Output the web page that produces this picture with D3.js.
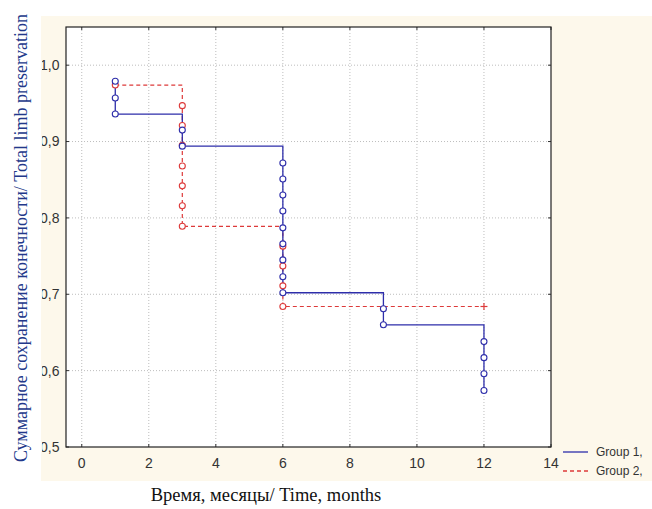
<!DOCTYPE html>
<html lang="ru">
<head>
<meta charset="UTF-8">
<title>Total limb preservation</title>
<style>
    body { margin: 0; background: #fff; }
    svg { display: block; }
    .tick-label { font-family: "Liberation Sans", Arial, sans-serif; font-size: 14px; fill: #333; }
    .title { font-family: "Liberation Serif", "Times New Roman", serif; }
</style>
</head>
<body>
<svg id="chart" width="652" height="509"></svg>
<script src="https://cdn.jsdelivr.net/npm/d3@7"></script>
<script>
// event times and survival values
const group1Time = [1, 1, 1, 3, 3, 6, 6, 6, 6, 6, 6, 6, 6, 6, 9, 9, 12, 12, 12, 12];
const group1Surv = [0.979, 0.957, 0.936, 0.915, 0.894, 0.872, 0.851, 0.830, 0.809, 0.787,
                    0.766, 0.745, 0.723, 0.702, 0.681, 0.660, 0.638, 0.617, 0.596, 0.574];
const group2Time = [1, 3, 3, 3, 3, 3, 3, 3, 6, 6, 6, 6];
const group2Surv = [0.974, 0.947, 0.921, 0.895, 0.868, 0.842, 0.816, 0.789, 0.763, 0.737, 0.711, 0.684];
const group2CensTime = [12];
const group2CensSurv = [0.684];

const xTicks = [0, 2, 4, 6, 8, 10, 12, 14];
const yTicks = [0.5, 0.6, 0.7, 0.8, 0.9, 1.0];
const seriesNames = ["Group 1,", "Group 2,"];

const blue = "#2e2eaa", red = "#dd3a3a";

const svg = d3.select("#chart");
const pLeft = 66, pRight = 551, pTop = 27, pBottom = 447;

const x = d3.scaleLinear().domain([-0.47, 14]).range([pLeft, pRight]);
const y = d3.scaleLinear().domain([0.5, 1.05]).range([pBottom, pTop]);

// cream panel
svg.append("rect").attr("x", 41).attr("y", 16).attr("width", 611).attr("height", 465)
    .attr("fill", "#fdf8eb");
svg.append("rect").attr("x", pLeft).attr("y", pTop).attr("width", pRight - pLeft).attr("height", pBottom - pTop)
    .attr("fill", "#fff");

// dotted grid
const grid = svg.append("g").attr("stroke", "#bdbdbd").attr("stroke-dasharray", "1,2");
grid.selectAll("line.gx").data(xTicks.filter(d => d < 14)).join("line").attr("class", "gx")
    .attr("x1", d => x(d)).attr("x2", d => x(d)).attr("y1", pTop).attr("y2", pBottom);
grid.selectAll("line.gy").data(yTicks.filter(d => d > 0.5)).join("line").attr("class", "gy")
    .attr("x1", pLeft).attr("x2", pRight).attr("y1", d => y(d)).attr("y2", d => y(d));

// ticks on all four sides
const tk = svg.append("g").attr("stroke", "#333");
tk.selectAll("line.tb").data(xTicks).join("line").attr("class", "tb")
    .attr("x1", d => x(d)).attr("x2", d => x(d)).attr("y1", pBottom).attr("y2", pBottom - 3);
tk.selectAll("line.tt").data(xTicks).join("line").attr("class", "tt")
    .attr("x1", d => x(d)).attr("x2", d => x(d)).attr("y1", pTop).attr("y2", pTop + 3);
tk.selectAll("line.tl").data(yTicks).join("line").attr("class", "tl")
    .attr("x1", pLeft).attr("x2", pLeft + 3).attr("y1", d => y(d)).attr("y2", d => y(d));
tk.selectAll("line.tr").data(yTicks).join("line").attr("class", "tr")
    .attr("x1", pRight).attr("x2", pRight - 3).attr("y1", d => y(d)).attr("y2", d => y(d));

// frame
svg.append("rect").attr("x", pLeft).attr("y", pTop).attr("width", pRight - pLeft).attr("height", pBottom - pTop)
    .attr("fill", "none").attr("stroke", "#222").attr("stroke-width", 1.2);

// tick labels (left side slightly clipped like the original crop)
svg.append("clipPath").attr("id", "cut").append("rect")
    .attr("x", 42).attr("y", 0).attr("width", 610).attr("height", 509);
svg.append("g").attr("clip-path", "url(#cut)")
    .selectAll("text").data(yTicks).join("text").attr("class", "tick-label")
    .attr("x", 59.5).attr("y", d => y(d)).attr("dy", "0.35em").attr("text-anchor", "end")
    .text(d => d3.format(".1f")(d).replace(".", ","));
svg.append("g").selectAll("text").data(xTicks).join("text").attr("class", "tick-label")
    .attr("x", d => x(d)).attr("y", 468).attr("text-anchor", "middle")
    .text(d => d);

// survival curves
const line = d3.line().x(d => x(d[0])).y(d => y(d[1])).curve(d3.curveStepAfter);
const g1 = group1Time.map((t, i) => [t, group1Surv[i]]);
const g2 = group2Time.map((t, i) => [t, group2Surv[i]]);
const cens = group2CensTime.map((t, i) => [t, group2CensSurv[i]]);
const g2Line = g2.concat(cens);

svg.append("path").datum(g2Line).attr("d", line).attr("fill", "none")
    .attr("stroke", red).attr("stroke-width", 1.2).attr("stroke-dasharray", "4,3");
svg.append("path").datum(g1).attr("d", line).attr("fill", "none")
    .attr("stroke", blue).attr("stroke-width", 1.3);

svg.append("g").selectAll("circle").data(g2).join("circle")
    .attr("cx", d => x(d[0])).attr("cy", d => y(d[1])).attr("r", 3)
    .attr("fill", "#fff").attr("stroke", red).attr("stroke-width", 1.1);
svg.append("g").selectAll("circle").data(g1).join("circle")
    .attr("cx", d => x(d[0])).attr("cy", d => y(d[1])).attr("r", 3)
    .attr("fill", "#fff").attr("stroke", blue).attr("stroke-width", 1.1);

// censored mark
const cg = svg.append("g").attr("stroke", red).attr("stroke-width", 1.2);
cg.selectAll("line.h").data(cens).join("line").attr("class", "h")
    .attr("x1", d => x(d[0]) - 3.5).attr("x2", d => x(d[0]) + 3.5)
    .attr("y1", d => y(d[1])).attr("y2", d => y(d[1]));
cg.selectAll("line.v").data(cens).join("line").attr("class", "v")
    .attr("x1", d => x(d[0])).attr("x2", d => x(d[0]))
    .attr("y1", d => y(d[1]) - 3.5).attr("y2", d => y(d[1]) + 3.5);

// legend
const leg = svg.append("g").selectAll("g").data(seriesNames).join("g")
    .attr("transform", (d, i) => `translate(563,${452 + i * 19})`);
leg.append("line").attr("x1", 0).attr("x2", 25).attr("y1", 0).attr("y2", 0)
    .attr("stroke", (d, i) => i ? red : blue).attr("stroke-width", 1.3)
    .attr("stroke-dasharray", (d, i) => i ? "4,3" : null);
leg.append("text").attr("class", "tick-label").attr("x", 33).attr("dy", "0.35em")
    .style("font-size", "12px").text(d => d);

// axis titles
svg.append("text").attr("class", "title").attr("fill", "#22388a")
    .style("font-size", "18px")
    .attr("transform", "translate(27,238) rotate(-90)").attr("text-anchor", "middle")
    .text("Суммарное сохранение конечности/ Total limb preservation");
svg.append("text").attr("class", "title").attr("fill", "#111")
    .style("font-size", "18.5px")
    .attr("x", 266).attr("y", 501).attr("text-anchor", "middle")
    .text("Время, месяцы/ Time, months");
</script>
</body>
</html>
